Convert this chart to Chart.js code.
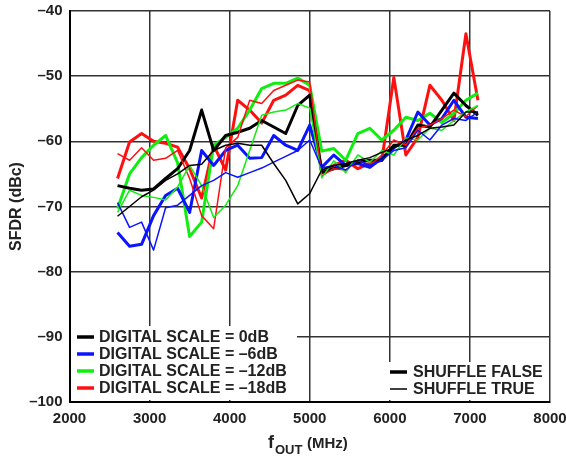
<!DOCTYPE html>
<html>
<head>
<meta charset="utf-8">
<script src="https://cdn.jsdelivr.net/npm/chart.js@4.4.1/dist/chart.umd.min.js"></script>
<style>
  html, body { margin: 0; padding: 0; background: #fff; }
  #wrap { width: 566px; height: 462px; }
</style>
</head>
<body>
<div id="wrap"><canvas id="chart-sfdr" width="566" height="462"></canvas></div>
<script>
// Output frequency (MHz)
const freqs = [2600, 2750, 2900, 3050, 3200, 3350, 3500, 3650, 3800, 3950, 4100,
  4250, 4400, 4550, 4700, 4850, 5000, 5150, 5300, 5450, 5600, 5750, 5900,
  6050, 6200, 6350, 6500, 6650, 6800, 6950, 7100];

// SFDR (dBc), shuffle false (thick) and shuffle true (thin)
const ds0False = [-66.8, -67.2, -67.5, -67.3, -65.7, -64.2, -61.4, -55.2, -61.4, -59.1, -58.6,
  -58.0, -56.8, -57.8, -58.8, -54.5, -52.9, -64.8, -64.2, -63.7, -63.2, -62.9, -62.9,
  -60.6, -60.6, -57.5, -57.8, -55.2, -52.6, -54.5, -56.0];
const ds0True = [-71.5, -70.0, -68.5, -67.5, -66.0, -65.0, -63.7, -63.5, -61.4, -60.6, -60.3,
  -60.6, -60.6, -63.4, -66.0, -69.6, -68.0, -64.4, -63.7, -63.4, -62.9, -62.5, -61.7,
  -61.0, -59.8, -59.1, -58.0, -57.8, -57.5, -55.5, -55.5];
const ds6False = [-74.0, -76.1, -75.8, -71.4, -68.3, -67.2, -70.9, -61.4, -63.7, -61.4, -60.6,
  -62.6, -62.5, -59.1, -60.6, -61.4, -57.5, -64.0, -62.1, -63.7, -63.4, -64.0, -62.6,
  -61.0, -59.8, -55.5, -57.5, -56.5, -53.7, -56.3, -56.5];
const ds6True = [-69.4, -73.2, -72.4, -76.7, -70.2, -69.8, -68.3, -66.8, -66.0, -64.8, -65.5,
  -64.8, -64.1, -63.2, -62.3, -61.4, -59.8, -64.1, -63.7, -64.4, -62.9, -63.7, -62.9,
  -61.4, -61.0, -58.3, -59.8, -57.5, -56.5, -56.8, -55.5];
const ds12False = [-70.3, -65.0, -62.5, -60.6, -59.1, -63.3, -74.6, -72.4, -60.6, -59.4, -58.0,
  -55.2, -51.9, -51.1, -51.1, -50.3, -51.4, -61.5, -61.1, -62.9, -58.8, -58.0, -59.8,
  -58.3, -56.3, -56.8, -55.7, -57.1, -55.7, -53.7, -52.6];
const ds12True = [-70.9, -67.5, -68.3, -68.6, -69.0, -67.0, -63.7, -66.8, -71.7, -69.8, -66.8,
  -61.4, -56.0, -55.5, -55.2, -54.2, -54.9, -65.6, -63.0, -64.8, -62.1, -63.2, -61.4,
  -62.1, -59.5, -59.8, -58.0, -58.3, -56.8, -55.5, -54.5];
const ds18False = [-65.7, -60.1, -58.8, -60.0, -60.3, -60.9, -64.2, -68.7, -60.6, -64.4, -53.7,
  -55.2, -57.2, -53.7, -52.9, -51.4, -52.2, -64.8, -63.7, -62.9, -64.2, -63.4, -62.9,
  -50.2, -62.1, -59.4, -51.4, -53.7, -56.8, -43.5, -53.7];
const ds18True = [-61.9, -62.9, -61.0, -62.9, -62.6, -61.4, -65.7, -71.4, -73.4, -61.0, -59.4,
  -53.7, -54.2, -52.2, -51.4, -50.6, -50.9, -65.3, -64.2, -64.4, -62.9, -63.7, -62.1,
  -59.8, -60.6, -58.0, -57.5, -56.5, -55.2, -56.2, -54.5];

const yTicks = [-100, -90, -80, -70, -60, -50, -40];
const xTicks = [2000, 3000, 4000, 5000, 6000, 7000, 8000];

const scaleLabels = ['DIGITAL SCALE = 0dB', 'DIGITAL SCALE = –6dB', 'DIGITAL SCALE = –12dB', 'DIGITAL SCALE = –18dB'];
const shuffleLabels = ['SHUFFLE FALSE', 'SHUFFLE TRUE'];

const BLACK = '#000000';
const BLUE = '#0a14ff';
const GREEN = '#10ee10';
const RED = '#ff1010';
const colors = [BLACK, BLUE, GREEN, RED];

const toPoints = (vals) => freqs.map((f, i) => ({ x: f, y: vals[i] }));
const dash = (v) => String(v).replace('-', '–');

const line = (vals, color, width) => ({
  data: toPoints(vals),
  borderColor: color,
  backgroundColor: color,
  borderWidth: width,
  pointRadius: 0,
  tension: 0,
  borderJoinStyle: 'round',
  fill: false
});

const FONT = '"Liberation Sans", Arial, sans-serif';

// legend boxes and x title with subscript
const annotations = {
  id: 'annotations',
  beforeDatasetsDraw(chart) {
    const ctx = chart.ctx;
    ctx.save();
    ctx.fillStyle = '#fff';
    ctx.fillRect(71, 326, 226, 74);
    ctx.fillRect(384, 362, 164, 38);

    ctx.font = 'bold 16px ' + FONT;
    ctx.textBaseline = 'middle';
    scaleLabels.forEach((txt, i) => {
      const y = 337 + i * 17;
      ctx.strokeStyle = colors[i];
      ctx.lineWidth = 3.5;
      ctx.beginPath();
      ctx.moveTo(77, y);
      ctx.lineTo(94, y);
      ctx.stroke();
      ctx.fillStyle = '#222';
      ctx.fillText(txt, 99, y + 1);
    });
    shuffleLabels.forEach((txt, i) => {
      const y = 372 + i * 17;
      ctx.strokeStyle = BLACK;
      ctx.lineWidth = i === 0 ? 3.5 : 1.5;
      ctx.beginPath();
      ctx.moveTo(390, y);
      ctx.lineTo(407, y);
      ctx.stroke();
      ctx.fillStyle = '#222';
      ctx.fillText(txt, 413, y + 1);
    });
    ctx.restore();
  },
  afterDraw(chart) {
    const ctx = chart.ctx;
    ctx.save();
    ctx.fillStyle = '#222';
    ctx.textBaseline = 'alphabetic';
    ctx.font = 'bold 18px ' + FONT;
    ctx.fillText('f', 268, 448);
    ctx.font = 'bold 13px ' + FONT;
    ctx.fillText('OUT', 275, 454);
    ctx.font = 'bold 15px ' + FONT;
    ctx.fillText('(MHz)', 307, 448);
    ctx.restore();
  }
};

new Chart(document.getElementById('chart-sfdr'), {
  type: 'line',
  data: {
    datasets: [
      line(ds0True, BLACK, 1.5),
      line(ds6True, BLUE, 1.5),
      line(ds12True, GREEN, 1.5),
      line(ds18True, RED, 1.5),
      line(ds0False, BLACK, 3),
      line(ds6False, BLUE, 3),
      line(ds12False, GREEN, 3),
      line(ds18False, RED, 3)
    ]
  },
  options: {
    responsive: false,
    animation: false,
    layout: { padding: { top: 11, right: 16, left: 0, bottom: 0 } },
    plugins: {
      legend: { display: false },
      tooltip: { enabled: false }
    },
    scales: {
      x: {
        type: 'linear',
        min: 2000,
        max: 8000,
        afterBuildTicks: (s) => { s.ticks = xTicks.map(v => ({ value: v })); },
        afterFit: (s) => { s.height = 60; s.paddingLeft = 0; s.paddingRight = 0; },
        grid: { color: '#333', lineWidth: 1.5, drawTicks: false },
        border: { color: '#000', width: 2 },
        ticks: {
          padding: 8,
          color: '#222',
          maxRotation: 0,
          font: { family: FONT, size: 15, weight: 'bold' },
          callback: (v) => String(v)
        }
      },
      y: {
        type: 'linear',
        min: -100,
        max: -40,
        afterBuildTicks: (s) => { s.ticks = yTicks.map(v => ({ value: v })); },
        afterFit: (s) => { s.width = 69.5; s.paddingTop = 0; s.paddingBottom = 0; },
        grid: { color: '#333', lineWidth: 1.5, drawTicks: false },
        border: { color: '#000', width: 2 },
        title: {
          display: true,
          text: 'SFDR (dBc)',
          color: '#222',
          padding: { top: 7, bottom: 0 },
          font: { family: FONT, size: 16, weight: 'bold' }
        },
        ticks: {
          padding: 7,
          color: '#222',
          font: { family: FONT, size: 15, weight: 'bold' },
          callback: (v) => dash(v)
        }
      }
    }
  },
  plugins: [annotations]
});
</script>
</body>
</html>
